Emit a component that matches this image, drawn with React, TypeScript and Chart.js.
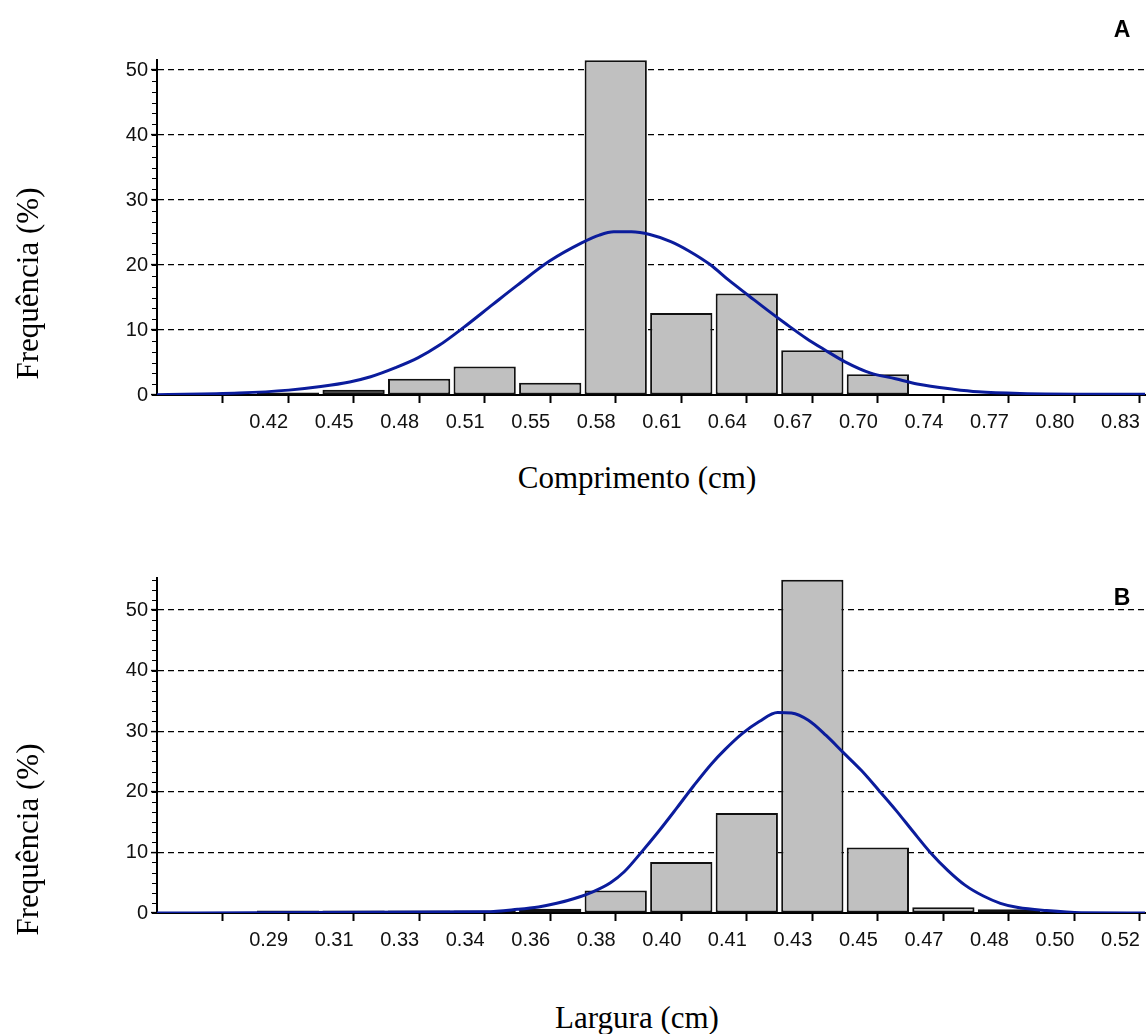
import React, { useEffect, useRef } from 'react';
import { Chart, registerables } from 'chart.js';

Chart.register(...registerables);

// ---------- Data: Comprimento (A) ----------
const lengthTickLabels = ['', '', '0.42', '0.45', '0.48', '0.51', '0.55', '0.58', '0.61', '0.64', '0.67', '0.70', '0.74', '0.77', '0.80', '0.83'];
const lengthFreq = [0, 0, 0.4, 0.8, 2.5, 4.4, 1.9, 51.5, 12.6, 15.6, 6.9, 3.2, 0, 0, 0, 0];
const lengthCurveX = [0, 1.25, 2.01, 2.5, 2.94, 3.26, 3.64, 3.98, 4.3, 4.68, 5.12, 5.5, 5.99, 6.48, 6.75, 6.97, 7.24, 7.52, 7.84, 8.11, 8.45, 8.72, 9.04, 9.31, 9.59, 9.91, 10.18, 10.5, 10.88, 11.27, 11.6, 12.15, 12.53, 13.17, 15.08];
const lengthCurveY = [0.05, 0.3, 0.75, 1.3, 2.0, 2.8, 4.2, 5.7, 7.6, 10.4, 13.9, 16.9, 20.6, 23.4, 24.6, 25.1, 25.1, 24.7, 23.6, 22.2, 20.0, 17.7, 15.2, 13.1, 11.0, 8.7, 7.0, 5.1, 3.4, 2.5, 1.7, 0.9, 0.5, 0.25, 0.1];

// ---------- Data: Largura (B) ----------
const widthTickLabels = ['', '', '0.29', '0.31', '0.33', '0.34', '0.36', '0.38', '0.40', '0.41', '0.43', '0.45', '0.47', '0.48', '0.50', '0.52'];
const widthFreq = [0, 0, 0.4, 0.4, 0.4, 0.4, 0.7, 3.7, 8.4, 16.5, 55.0, 10.8, 0.95, 0.6, 0, 0];
const widthCurveX = [0, 5.02, 5.5, 5.82, 6.1, 6.37, 6.65, 6.92, 7.13, 7.39, 7.65, 7.93, 8.19, 8.46, 8.67, 8.93, 9.19, 9.47, 9.68, 9.94, 10.21, 10.47, 10.75, 11.01, 11.28, 11.54, 11.8, 12.07, 12.33, 12.61, 12.87, 13.14, 13.57, 14.1, 15.08];
const widthCurveY = [0, 0.2, 0.6, 1.0, 1.6, 2.4, 3.5, 5.0, 6.8, 10.0, 13.4, 17.3, 21.0, 24.6, 27.0, 29.6, 31.6, 33.1, 33.0, 31.8, 29.3, 26.5, 23.5, 20.3, 16.9, 13.4, 10.0, 7.0, 4.6, 2.8, 1.6, 0.9, 0.4, 0.05, 0];

const X_MAX = 15.08;
const Y_STEP = 10;
const MINOR_STEP = 10 / 6;
const TINY_BAR = 0.85;

const TICK_FONT = { family: '"Liberation Sans", Arial, sans-serif', size: 20 };
const SERIF = '"Liberation Serif", "Times New Roman", serif';
const SANS = '"Liberation Sans", Arial, sans-serif';

const minorTicksPlugin = {
  id: 'minorTicks',
  afterDraw(chart: any) {
    const y = chart.scales.y;
    const ctx = chart.ctx;
    const left = chart.chartArea.left;
    ctx.save();
    ctx.strokeStyle = '#000';
    ctx.lineWidth = 1;
    for (let v = 0; v <= y.max + 1e-6; v += MINOR_STEP) {
      const py = Math.round(y.getPixelForValue(v)) + 0.5;
      ctx.beginPath();
      ctx.moveTo(left - 5, py);
      ctx.lineTo(left, py);
      ctx.stroke();
    }
    ctx.restore();
  },
};

type HistProps = {
  labels: string[];
  freq: number[];
  curveX: number[];
  curveY: number[];
  yMax: number;
  width: number;
  height: number;
  padTop: number;
  top: number;
};

function HistChart({ labels, freq, curveX, curveY, yMax, width, height, padTop, top }: HistProps) {
  const ref = useRef<HTMLCanvasElement | null>(null);
  useEffect(() => {
    if (!ref.current) return;
    const barData = freq
      .map((v, i) => ({ x: i, y: v }))
      .filter((p) => p.y > 0);
    const lineData = curveX.map((x, i) => ({ x, y: curveY[i] }));
    const chart = new Chart(ref.current, {
      type: 'bar',
      data: {
        datasets: [
          {
            type: 'line',
            data: lineData,
            borderColor: '#0b1c9c',
            borderWidth: 3,
            pointRadius: 0,
            cubicInterpolationMode: 'monotone',
            fill: false,
            order: 0,
          } as any,
          {
            type: 'bar',
            data: barData,
            backgroundColor: (c: any) => (c.raw && c.raw.y < TINY_BAR ? '#111' : '#c0c0c0'),
            borderColor: '#111',
            borderWidth: 2,
            borderSkipped: false,
            barPercentage: 0.95,
            categoryPercentage: 1,
            order: 1,
          } as any,
        ],
      },
      options: {
        responsive: false,
        animation: false,
        devicePixelRatio: 1,
        layout: { padding: { top: padTop, right: 1, left: 0, bottom: 0 } },
        plugins: { legend: { display: false }, tooltip: { enabled: false } },
        scales: {
          x: {
            type: 'linear',
            min: 0,
            max: X_MAX,
            offset: false,
            afterBuildTicks: (s: any) => {
              s.ticks = labels.map((_, i) => ({ value: i }));
            },
            afterFit: (s: any) => {
              s.height = 40;
            },
            ticks: {
              autoSkip: false,
              maxRotation: 0,
              minRotation: 0,
              align: 'end',
              padding: 7,
              color: '#111',
              font: TICK_FONT,
              callback: (v: any) => labels[v] ?? '',
            },
            grid: {
              offset: false,
              drawOnChartArea: false,
              drawTicks: true,
              tickLength: 8,
              tickColor: (c: any) => (c.index === 0 ? 'rgba(0,0,0,0)' : '#000'),
              tickWidth: 2,
            },
            border: { display: true, color: '#000', width: 2 },
          } as any,
          y: {
            type: 'linear',
            min: 0,
            max: yMax,
            afterFit: (s: any) => {
              s.width = 157;
            },
            ticks: {
              stepSize: Y_STEP,
              includeBounds: false,
              padding: 3,
              color: '#111',
              font: TICK_FONT,
            },
            grid: {
              color: (c: any) => (c.tick && c.tick.value === 0 ? 'rgba(0,0,0,0)' : '#000'),
              lineWidth: 1.2,
              drawTicks: true,
              tickLength: 6,
              tickColor: '#000',
              tickWidth: 1.5,
            },
            border: { display: true, color: '#000', width: 2, dash: [6, 4] },
          } as any,
        },
      },
      plugins: [minorTicksPlugin],
    });
    return () => chart.destroy();
  }, []);
  return (
    <canvas
      ref={ref}
      width={width}
      height={height}
      style={{ position: 'absolute', left: 0, top, width, height }}
    />
  );
}

function YTitle({ cy }: { cy: number }) {
  return (
    <div
      style={{
        position: 'absolute',
        left: 27 - 150,
        top: cy - 15.5,
        width: 300,
        height: 31,
        lineHeight: '31px',
        fontSize: 31,
        fontFamily: SERIF,
        textAlign: 'center',
        color: '#000',
        transform: 'rotate(-90deg)',
        whiteSpace: 'nowrap',
      }}
    >
      Frequência (%)
    </div>
  );
}

function XTitle({ text, top }: { text: string; top: number }) {
  return (
    <div
      style={{
        position: 'absolute',
        left: 437,
        top,
        width: 400,
        lineHeight: '31px',
        fontSize: 31,
        fontFamily: SERIF,
        textAlign: 'center',
        color: '#000',
        whiteSpace: 'nowrap',
      }}
    >
      {text}
    </div>
  );
}

function Letter({ text, top }: { text: string; top: number }) {
  return (
    <div
      style={{
        position: 'absolute',
        left: 1102,
        top,
        width: 40,
        lineHeight: '23px',
        fontSize: 23,
        fontWeight: 'bold',
        fontFamily: SANS,
        textAlign: 'center',
        color: '#000',
      }}
    >
      {text}
    </div>
  );
}

export default function App() {
  useEffect(() => {
    document.body.style.margin = '0';
  }, []);
  return (
    <div style={{ position: 'relative', width: 1147, height: 1034, overflow: 'hidden', background: '#fff' }}>
      <HistChart
        labels={lengthTickLabels}
        freq={lengthFreq}
        curveX={lengthCurveX}
        curveY={lengthCurveY}
        yMax={51.54}
        width={1147}
        height={435}
        padTop={60}
        top={0}
      />
      <HistChart
        labels={widthTickLabels}
        freq={widthFreq}
        curveX={widthCurveX}
        curveY={widthCurveY}
        yMax={55.28}
        width={1147}
        height={433}
        padTop={58}
        top={520}
      />
      <YTitle cy={283} />
      <YTitle cy={839} />
      <XTitle text="Comprimento (cm)" top={462} />
      <XTitle text="Largura (cm)" top={1002} />
      <Letter text="A" top={18} />
      <Letter text="B" top={586} />
    </div>
  );
}
